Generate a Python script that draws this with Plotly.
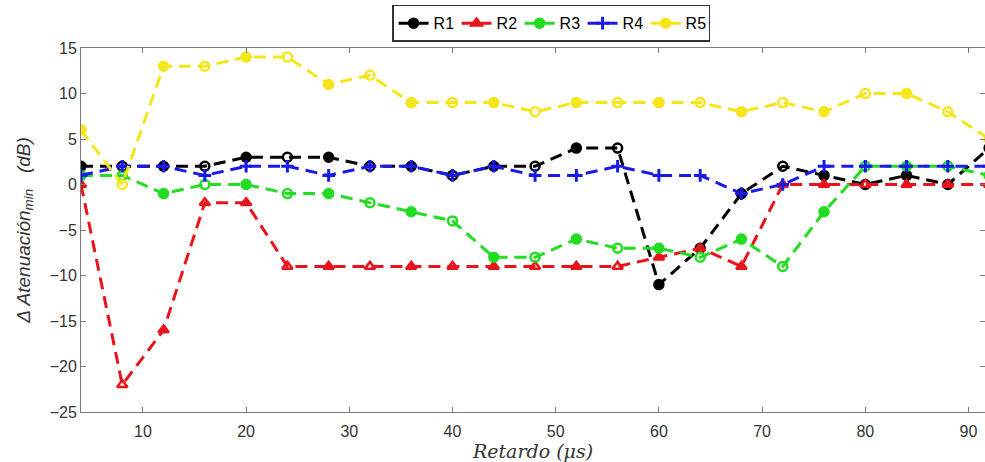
import plotly.graph_objects as go

retardo = [4, 8, 12, 16, 20, 24, 28, 32, 36, 40, 44, 48, 52, 56, 60, 64, 68, 72, 76, 80, 84, 88, 92]

r1 = [2, 2, 2, 2, 3, 3, 3, 2, 2, 1, 2, 2, 4, 4, -11, -7, -1, 2, 1, 0, 1, 0, 4]
r2 = [0, -22, -16, -2, -2, -9, -9, -9, -9, -9, -9, -9, -9, -9, -8, -7, -9, 0, 0, 0, 0, 0, 0]
r3 = [1, 1, -1, 0, 0, -1, -1, -2, -3, -4, -8, -8, -6, -7, -7, -8, -6, -9, -3, 2, 2, 2, 1]
r4 = [1, 2, 2, 1, 2, 2, 1, 2, 2, 1, 2, 1, 1, 2, 1, 1, -1, 0, 2, 2, 2, 2, 2]
r5 = [6, 0, 13, 13, 14, 14, 11, 12, 9, 9, 9, 8, 9, 9, 9, 9, 8, 9, 8, 10, 10, 8, 5]

series_names = ["R1", "R2", "R3", "R4", "R5"]
series_vals = [r1, r2, r3, r4, r5]
colors = ["#000000", "#e8141c", "#22dd22", "#1a1ae6", "#f5e61a"]
base_symbols = ["circle", "triangle-up", "circle", "cross-thin", "circle"]

fig = go.Figure()
for name, vals, col, sym in zip(series_names, series_vals, colors, base_symbols):
    if sym == "cross-thin":
        syms = ["cross-thin"] * len(vals)
        mline = dict(color=col, width=3)
    else:
        syms = [sym if i % 2 == 0 else sym + "-open" for i in range(len(vals))]
        mline = dict(color=col, width=2.5)
    fig.add_trace(go.Scatter(
        x=retardo, y=vals, name=name, mode="lines+markers",
        line=dict(color=col, width=3, dash="12px,7px"),
        marker=dict(symbol=syms, size=9, color=col, line=mline),
    ))

axis_common = dict(
    showline=True, linecolor="#7a7a7a", linewidth=1, mirror="ticks",
    ticks="inside", ticklen=5, tickcolor="#7a7a7a", showgrid=False, zeroline=False,
    automargin=False,
    tickfont=dict(family="Liberation Sans, Arial", size=16, color="#333333"),
)

fig.update_layout(
    width=985, height=462,
    margin=dict(l=81, r=0, t=48, b=50, autoexpand=False),
    paper_bgcolor="white", plot_bgcolor="white",
    xaxis=dict(range=[4, 91.6], tickvals=[10, 20, 30, 40, 50, 60, 70, 80, 90],
               ticklabelstandoff=5,
               title=dict(text="<i>Retardo (μs)</i>", standoff=2,
                          font=dict(family="DejaVu Serif, Liberation Serif", size=19, color="#333333")),
               **axis_common),
    yaxis=dict(range=[-25, 15], tickvals=[-25, -20, -15, -10, -5, 0, 5, 10, 15],
               title=dict(text="<i>Δ Atenuación<sub>min</sub>   (dB)</i>", standoff=14,
                          font=dict(family="Liberation Sans, Arial", size=19, color="#333333")),
               **axis_common),
    legend=dict(orientation="h", x=0.52, y=1.068, xanchor="center", yanchor="middle",
                bordercolor="#333333", borderwidth=1.5, bgcolor="white",
                font=dict(family="Liberation Sans, Arial", size=16, color="#000000"),
                itemwidth=30, entrywidth=18, entrywidthmode="pixels", tracegroupgap=0),
    showlegend=True,
)

fig.write_html("out.html", post_script="document.body.style.margin='0';",
               config={"displayModeBar": False})
